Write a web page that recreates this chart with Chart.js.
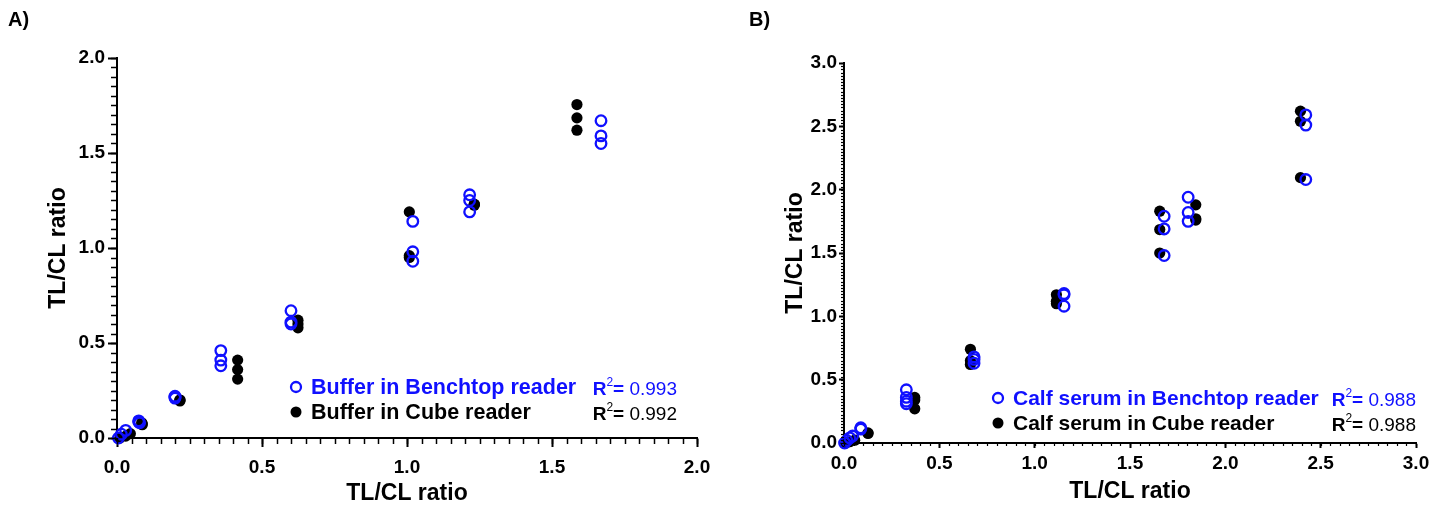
<!DOCTYPE html>
<html>
<head>
<meta charset="utf-8">
<script src="https://cdn.jsdelivr.net/npm/chart.js@4/dist/chart.umd.min.js"></script>
<style>
  body { margin: 0; background: #fff; }
  .panel { position: absolute; top: 0; height: 507px; }
  #wrapA { left: 0; width: 720px; }
  #wrapB { left: 725px; width: 724px; }
</style>
</head>
<body>
<div class="panel" id="wrapA"><canvas id="chartA" width="720" height="507"></canvas></div>
<div class="panel" id="wrapB"><canvas id="chartB" width="724" height="507"></canvas></div>
<script>
// Panel A - buffer
const benchA_x = [0.005, 0.015, 0.03, 0.075, 0.075, 0.078, 0.2, 0.2, 0.2, 0.358, 0.358, 0.358, 0.6, 0.6, 0.6, 1.02, 1.02, 1.02, 1.216, 1.216, 1.216, 1.669, 1.669, 1.669];
const benchA_y = [0.0, 0.02, 0.04, 0.09, 0.085, 0.08, 0.22, 0.215, 0.21, 0.46, 0.41, 0.38, 0.67, 0.61, 0.6, 1.14, 0.98, 0.93, 1.28, 1.25, 1.19, 1.67, 1.59, 1.55];
const cubeA_x = [0.01, 0.03, 0.046, 0.085, 0.087, 0.087, 0.217, 0.217, 0.217, 0.416, 0.416, 0.416, 0.624, 0.624, 0.624, 1.008, 1.008, 1.008, 1.232, 1.232, 1.232, 1.586, 1.586, 1.586];
const cubeA_y = [0.0, 0.01, 0.023, 0.08, 0.075, 0.07, 0.2, 0.2, 0.195, 0.41, 0.36, 0.31, 0.62, 0.6, 0.58, 1.19, 0.96, 0.95, 1.23, 1.23, 1.225, 1.755, 1.685, 1.62];

// Panel B - calf serum
const benchB_x = [0.003, 0.015, 0.03, 0.045, 0.088, 0.088, 0.327, 0.327, 0.327, 0.327, 0.682, 0.682, 0.682, 1.154, 1.154, 1.154, 1.679, 1.679, 1.679, 1.805, 1.805, 1.805, 2.422, 2.422, 2.422];
const benchB_y = [0.0, 0.02, 0.04, 0.055, 0.12, 0.11, 0.42, 0.36, 0.33, 0.31, 0.68, 0.66, 0.63, 1.18, 1.17, 1.08, 1.79, 1.69, 1.48, 1.94, 1.82, 1.75, 2.59, 2.51, 2.08];
const cubeB_x = [0.01, 0.03, 0.056, 0.126, 0.126, 0.371, 0.371, 0.371, 0.663, 0.663, 0.663, 1.114, 1.114, 1.114, 1.656, 1.656, 1.656, 1.845, 1.845, 1.845, 2.394, 2.394, 2.394];
const cubeB_y = [0.0, 0.01, 0.022, 0.075, 0.08, 0.36, 0.34, 0.27, 0.74, 0.65, 0.62, 1.17, 1.12, 1.1, 1.83, 1.685, 1.5, 1.88, 1.77, 1.76, 2.62, 2.54, 2.095];

const labelsA = ['Buffer in Benchtop reader', 'Buffer in Cube reader'];
const labelsB = ['Calf serum in Benchtop reader', 'Calf serum in Cube reader'];
const r2A = ['0.993', '0.992'];
const r2B = ['0.988', '0.988'];
const axisTitle = 'TL/CL ratio';

const BLUE = '#1010ff';
const FONT = '"Liberation Sans", Arial, sans-serif';

function pts(xs, ys) {
  return xs.map((x, i) => ({ x: x, y: ys[i] }));
}

// minor ticks + panel letter + legend text
const decorPlugin = {
  id: 'decor',
  afterDraw(chart, args, o) {
    const ctx = chart.ctx;
    const xs = chart.scales.x, ys = chart.scales.y;
    ctx.save();
    ctx.strokeStyle = '#000';
    ctx.lineWidth = o.minorWidth;
    // minor ticks x
    for (let v = 0; v <= xs.max + 1e-9; v += o.xMinor) {
      const px = Math.round(xs.getPixelForValue(v)) + 0.5;
      ctx.beginPath();
      ctx.moveTo(px, xs.top);
      ctx.lineTo(px, xs.top + o.minorLen);
      ctx.stroke();
    }
    // minor ticks y
    for (let v = 0; v <= ys.max + 1e-9; v += o.yMinor) {
      const py = Math.round(ys.getPixelForValue(v)) + 0.5;
      ctx.beginPath();
      ctx.moveTo(ys.right, py);
      ctx.lineTo(ys.right - o.minorLen, py);
      ctx.stroke();
    }

    // panel letter
    ctx.fillStyle = '#000';
    ctx.font = 'bold 20px ' + FONT;
    ctx.textBaseline = 'alphabetic';
    ctx.textAlign = 'left';
    ctx.fillText(o.letter, o.letterX, 26);

    // legend rows
    const colors = [BLUE, '#000'];
    const fs = o.fontSize;
    const rs = o.r2Size;
    o.labels.forEach((txt, i) => {
      const y = o.rowY[i];
      ctx.fillStyle = colors[i];
      ctx.strokeStyle = colors[i];
      ctx.beginPath();
      ctx.arc(o.markX, y - 7, i === 0 ? 5 : 5.5, 0, Math.PI * 2);
      if (i === 0) { ctx.lineWidth = 2.3; ctx.stroke(); } else { ctx.fill(); }
      ctx.font = 'bold ' + fs + 'px ' + FONT;
      ctx.textAlign = 'left';
      ctx.fillText(txt, o.textX, y);

      // R^2 = value, right aligned
      ctx.font = rs + 'px ' + FONT;
      const valW = ctx.measureText(o.r2[i]).width;
      ctx.font = 'bold ' + rs + 'px ' + FONT;
      const eqW = ctx.measureText('= ').width;
      ctx.font = '12px ' + FONT;
      const supW = ctx.measureText('2').width;
      ctx.font = 'bold ' + rs + 'px ' + FONT;
      const rW = ctx.measureText('R').width;
      let x = o.r2Right - valW - eqW - supW - rW;
      ctx.fillText('R', x, y + 1); x += rW;
      ctx.font = '12px ' + FONT;
      ctx.fillText('2', x, y - 8); x += supW;
      ctx.font = 'bold ' + rs + 'px ' + FONT;
      ctx.fillText('= ', x, y + 1); x += eqW;
      ctx.font = rs + 'px ' + FONT;
      ctx.fillText(o.r2[i], x, y + 1);
    });
    ctx.restore();
  }
};

function makeChart(id, cfg) {
  const ctx = document.getElementById(id).getContext('2d');
  const tickFont = { family: FONT, size: 19, weight: 'bold' };
  const titleFont = { family: FONT, size: 23, weight: 'bold' };
  return new Chart(ctx, {
    type: 'scatter',
    data: {
      datasets: [{
        label: cfg.labels[0],
        data: pts(cfg.bx, cfg.by),
        pointStyle: 'circle',
        pointRadius: 5.3,
        pointBorderWidth: 2.3,
        pointBorderColor: BLUE,
        pointBackgroundColor: 'rgba(0,0,0,0)',
        clip: false
      }, {
        label: cfg.labels[1],
        data: pts(cfg.cx, cfg.cy),
        pointStyle: 'circle',
        pointRadius: 5.6,
        pointBorderWidth: 0,
        pointBackgroundColor: '#000',
        pointBorderColor: '#000',
        clip: false
      }]
    },
    options: {
      responsive: false,
      animation: false,
      layout: { padding: cfg.padding },
      plugins: {
        legend: { display: false },
        tooltip: { enabled: false },
        decor: cfg.decor
      },
      scales: {
        x: {
          type: 'linear',
          min: 0,
          max: cfg.max,
          afterFit: s => { s.height = cfg.xHeight; },
          border: { display: true, color: '#000', width: 2 },
          grid: { drawOnChartArea: false, drawTicks: true, tickLength: cfg.majorLen, tickWidth: 2, tickColor: '#000' },
          ticks: {
            stepSize: 0.5,
            color: '#000',
            font: tickFont,
            padding: cfg.xPad,
            maxRotation: 0,
            callback: v => v.toFixed(1)
          },
          title: { display: true, text: axisTitle, color: '#000', font: titleFont, padding: { top: 4, bottom: 0 } }
        },
        y: {
          type: 'linear',
          min: 0,
          max: cfg.max,
          afterFit: s => { s.width = cfg.yWidth; },
          border: { display: true, color: '#000', width: 2 },
          grid: { drawOnChartArea: false, drawTicks: true, tickLength: cfg.majorLen, tickWidth: 2, tickColor: '#000' },
          ticks: {
            stepSize: 0.5,
            color: '#000',
            font: tickFont,
            padding: cfg.yPad,
            callback: v => v.toFixed(1)
          },
          title: { display: true, text: axisTitle, color: '#000', font: titleFont, padding: { top: 3, bottom: 4 } }
        }
      }
    },
    plugins: [decorPlugin]
  });
}

makeChart('chartA', {
  bx: benchA_x, by: benchA_y, cx: cubeA_x, cy: cubeA_y,
  labels: labelsA, max: 2.0,
  padding: { left: 42, right: 23, top: 58, bottom: 0 },
  yWidth: 75, xHeight: 69, majorLen: 9, xPad: 9, yPad: 3,
  decor: {
    letter: 'A)', letterX: 8, xMinor: 0.05, yMinor: 0.05, minorLen: 6, minorWidth: 1.5,
    labels: labelsA, r2: r2A, markX: 296, textX: 311, rowY: [394, 419], r2Right: 677,
    fontSize: 21.5, r2Size: 19
  }
});

makeChart('chartB', {
  bx: benchB_x, by: benchB_y, cx: cubeB_x, cy: cubeB_y,
  labels: labelsB, max: 3.0,
  padding: { left: 54, right: 33, top: 63, bottom: 2 },
  yWidth: 65, xHeight: 62, majorLen: 5, xPad: 4, yPad: 2,
  decor: {
    letter: 'B)', letterX: 24, xMinor: 0.05, yMinor: 0.025, minorLen: 3, minorWidth: 1.2,
    labels: labelsB, r2: r2B, markX: 273, textX: 288, rowY: [405, 430], r2Right: 691,
    fontSize: 21, r2Size: 19
  }
});
</script>
</body>
</html>
